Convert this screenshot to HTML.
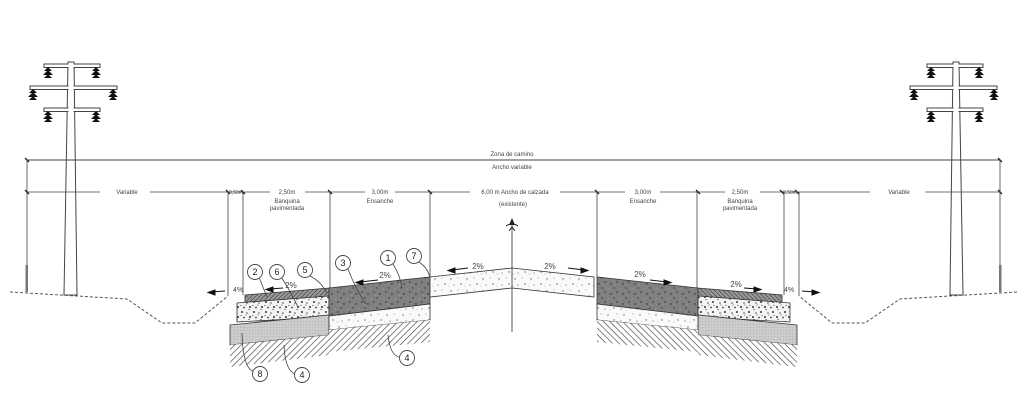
<!DOCTYPE html>
<html><head><meta charset="utf-8"><style>
html,body{margin:0;padding:0;background:#fff;}
svg{display:block;}
text{font-family:"Liberation Sans",sans-serif;fill:#444;font-size:6px;text-anchor:middle;}
</style></head><body>
<svg width="1024" height="411" viewBox="0 0 1024 411" xmlns="http://www.w3.org/2000/svg">
<defs>
<pattern id="hatch" patternUnits="userSpaceOnUse" width="4.5" height="4.5" patternTransform="rotate(45)">
<rect width="4.5" height="4.5" fill="#fff"/><line x1="0" y1="0" x2="0" y2="4.5" stroke="#444" stroke-width="1.3"/></pattern>
<pattern id="dhatch" patternUnits="userSpaceOnUse" width="3" height="3" patternTransform="rotate(45)">
<rect width="3" height="3" fill="#999"/><line x1="0" y1="0" x2="0" y2="3" stroke="#333" stroke-width="1.1"/></pattern>
<pattern id="grid" patternUnits="userSpaceOnUse" width="3" height="3">
<rect width="3" height="3" fill="#cfcfcf"/><path d="M0 0H3M0 0V3" stroke="#aaa" stroke-width="0.5"/></pattern>
<pattern id="speck" patternUnits="userSpaceOnUse" width="12" height="10">
<rect width="12" height="10" fill="#f4f4f4"/>
<circle cx="2" cy="2" r="1" fill="#333"/><circle cx="7" cy="3" r="0.8" fill="#555"/><circle cx="10" cy="7" r="1" fill="#333"/>
<circle cx="4" cy="7.5" r="0.9" fill="#444"/><circle cx="9" cy="9.5" r="0.6" fill="#333"/><circle cx="1" cy="5.5" r="0.6" fill="#555"/>
<circle cx="6" cy="5" r="0.5" fill="#333"/></pattern>
<pattern id="speckL" patternUnits="userSpaceOnUse" width="16" height="12">
<rect width="16" height="12" fill="#fafafa"/>
<circle cx="3" cy="3" r="0.7" fill="#666"/><circle cx="10" cy="2" r="0.5" fill="#777"/><circle cx="13" cy="8" r="0.7" fill="#666"/>
<circle cx="6" cy="9" r="0.6" fill="#777"/><circle cx="1" cy="10" r="0.4" fill="#666"/></pattern>
<pattern id="dark" patternUnits="userSpaceOnUse" width="12" height="10">
<rect width="12" height="10" fill="#808080"/>
<circle cx="2" cy="2" r="0.8" fill="#333"/><circle cx="8" cy="4" r="0.7" fill="#222"/><circle cx="5" cy="8" r="0.7" fill="#333"/><circle cx="11" cy="9" r="0.5" fill="#bbb"/><circle cx="4" cy="5" r="0.4" fill="#ccc"/></pattern>
<g id="ins"><path d="M-4 4L0 0L4 4Z M-5 8L0 3L5 8Z M-4 11L0 7L4 11Z" fill="#111"/></g>
<g id="pole">
<path d="M68 62 L74 62 L77 295 L64 295 Z" fill="#fff" stroke="#444" stroke-width="1"/>
<rect x="44" y="64" width="56" height="3.5" fill="#fff" stroke="#444" stroke-width="1"/>
<rect x="30" y="86" width="87" height="3.5" fill="#fff" stroke="#444" stroke-width="1"/>
<rect x="44" y="108" width="56" height="3.5" fill="#fff" stroke="#444" stroke-width="1"/>
<rect x="68.5" y="63" width="5" height="50" fill="#fff"/>
<use href="#ins" x="48" y="67"/><use href="#ins" x="96" y="67"/>
<use href="#ins" x="33" y="89"/><use href="#ins" x="113" y="89"/>
<use href="#ins" x="48" y="111"/><use href="#ins" x="96" y="111"/>
</g>
<g id="half">
<polygon points="245,295 329,288 329,296 245,303" fill="url(#dhatch)" stroke="#333" stroke-width="0.8"/>
<polygon points="237,303 329,296 329,317 237,322" fill="url(#speck)" stroke="#333" stroke-width="0.8"/>
<polygon points="230,325 329,315 329,335 230,345" fill="url(#grid)" stroke="#333" stroke-width="0.8"/>
<polygon points="230,345 329,335 329,355 230,367" fill="url(#hatch)"/>
<polygon points="329,288 430,277 430,304 329,316" fill="url(#dark)" stroke="#333" stroke-width="0.8"/>
<polygon points="329,316 430,304 430,320 329,330" fill="url(#speckL)" stroke="#333" stroke-width="0.8"/>
<polygon points="329,330 430,320 430,342 329,352" fill="url(#hatch)"/>
<polyline points="10,292 127,299 162,323 195,323 228,296" fill="none" stroke="#555" stroke-width="1" stroke-dasharray="3,2"/>
<line x1="243" y1="192" x2="243" y2="295" stroke="#444" stroke-width="0.8"/>
<line x1="228" y1="192" x2="228" y2="296" stroke="#444" stroke-width="0.8"/>
<line x1="330" y1="192" x2="330" y2="288" stroke="#444" stroke-width="0.8"/>
<line x1="430" y1="192" x2="430" y2="277" stroke="#444" stroke-width="0.8"/>
<line x1="27" y1="160" x2="27" y2="292" stroke="#444" stroke-width="0.8"/>
<rect x="25.5" y="265" width="2.5" height="27" fill="#777"/>
</g>
</defs>

<use href="#pole"/>
<use href="#pole" transform="matrix(-1,0,0,1,1027,0)"/>
<use href="#half"/>
<use href="#half" transform="matrix(-1,0,0,1,1027,0)"/>

<polygon points="430,277 512,268 594,277 594,297 512,288 430,297" fill="url(#speckL)" stroke="#333" stroke-width="0.8"/>

<line x1="27" y1="160" x2="1000" y2="160" stroke="#444" stroke-width="1"/>
<text x="512" y="156">Zona de camino</text>
<text x="512" y="169">Ancho variable</text>
<g stroke="#444" stroke-width="0.8">
<line x1="27" y1="192" x2="100" y2="192"/><line x1="150" y1="192" x2="270" y2="192"/>
<line x1="305" y1="192" x2="365" y2="192"/><line x1="395" y1="192" x2="470" y2="192"/>
<line x1="560" y1="192" x2="625" y2="192"/><line x1="660" y1="192" x2="725" y2="192"/>
<line x1="760" y1="192" x2="870" y2="192"/><line x1="925" y1="192" x2="1000" y2="192"/>
</g>
<g stroke="#222" stroke-width="1.3">
<line x1="25" y1="158" x2="29" y2="162"/><line x1="998" y1="158" x2="1002" y2="162"/>
<line x1="25" y1="190" x2="29" y2="194"/><line x1="226" y1="190" x2="230" y2="194"/><line x1="241" y1="190" x2="245" y2="194"/>
<line x1="328" y1="190" x2="332" y2="194"/><line x1="428" y1="190" x2="432" y2="194"/><line x1="595" y1="190" x2="599" y2="194"/>
<line x1="696" y1="190" x2="700" y2="194"/><line x1="780" y1="190" x2="784" y2="194"/><line x1="795" y1="190" x2="799" y2="194"/>
<line x1="998" y1="190" x2="1002" y2="194"/>
</g>
<text x="127" y="194">Variable</text><text x="899" y="194">Variable</text>
<text x="236" y="194" style="font-size:5px">0,50m</text><text x="790" y="194" style="font-size:5px">0,50m</text>
<text x="287" y="194">2,50m</text><text x="287" y="203">Banquina</text><text x="287" y="210">pavimentada</text>
<text x="740" y="194">2,50m</text><text x="740" y="203">Banquina</text><text x="740" y="210">pavimentada</text>
<text x="380" y="194">3,00m</text><text x="380" y="203">Ensanche</text>
<text x="643" y="194">3,00m</text><text x="643" y="203">Ensanche</text>
<text x="515" y="194">6,00 m Ancho de calzada</text><text x="513" y="206">(existente)</text>

<line x1="512" y1="222" x2="512" y2="332" stroke="#444" stroke-width="0.9"/>
<path d="M512 218 L509 225 L515 225 Z" fill="#222"/>
<path d="M506 226 Q512 222 518 226 M509 231 L512 227 L515 231" fill="none" stroke="#222" stroke-width="1"/>

<g stroke="#111" stroke-width="1" fill="#111">
<line x1="452" y1="270" x2="468" y2="268"/><path d="M448 270.5 L455 268 L455 273 Z"/>
<line x1="568" y1="268" x2="584" y2="270"/><path d="M588 270.5 L581 268 L581 273 Z"/>
<line x1="360" y1="282" x2="378" y2="280"/><path d="M356 282.5 L363 280 L363 285 Z"/>
<line x1="650" y1="280" x2="667" y2="282"/><path d="M671 282.5 L664 280 L664 285 Z"/>
<line x1="270" y1="289" x2="283" y2="288"/><path d="M266 289.5 L273 287 L273 292 Z"/>
<line x1="744" y1="288" x2="757" y2="289"/><path d="M761 289.5 L754 287 L754 292 Z"/>
<line x1="212" y1="292" x2="225" y2="291"/><path d="M208 292.5 L215 290 L215 295 Z"/>
<line x1="802" y1="291" x2="815" y2="292"/><path d="M819 292.5 L812 290 L812 295 Z"/>
</g>
<text x="478" y="269" style="font-size:8px">2%</text><text x="550" y="269" style="font-size:8px">2%</text>
<text x="385" y="278" style="font-size:8px">2%</text><text x="640" y="277" style="font-size:8px">2%</text>
<text x="291" y="288" style="font-size:8px">2%</text><text x="736" y="287" style="font-size:8px">2%</text>
<text x="238" y="292" style="font-size:7px">4%</text><text x="789" y="292" style="font-size:7px">4%</text>

<g fill="none" stroke="#444" stroke-width="0.8">
<path d="M259 277 Q262 285 267 297"/><path d="M281 277 Q290 290 298 307"/>
<path d="M310 276 Q322 282 327 294"/><path d="M348 269 Q356 290 366 304"/>
<path d="M393 264 Q400 275 402 288"/><path d="M419 262 Q428 268 430 278"/>
<path d="M253 371 Q243 368 242 333"/><path d="M295 374 Q285 370 284 345"/>
<path d="M399 357 Q390 355 388 335"/>
</g>
<g fill="#fff" stroke="#444" stroke-width="0.9">
<circle cx="255" cy="272" r="7.5"/><circle cx="277" cy="272" r="7.5"/><circle cx="305" cy="270" r="7.5"/>
<circle cx="343" cy="263" r="7.5"/><circle cx="388" cy="258" r="7.5"/><circle cx="414" cy="256" r="7.5"/>
<circle cx="260" cy="374" r="7.5"/><circle cx="302" cy="375" r="7.5"/><circle cx="407" cy="358" r="7.5"/>
</g>
<text x="255" y="275" style="font-size:9px;fill:#222">2</text><text x="277" y="275" style="font-size:9px;fill:#222">6</text>
<text x="305" y="273" style="font-size:9px;fill:#222">5</text><text x="343" y="266" style="font-size:9px;fill:#222">3</text>
<text x="388" y="261" style="font-size:9px;fill:#222">1</text><text x="414" y="259" style="font-size:9px;fill:#222">7</text>
<text x="260" y="377" style="font-size:9px;fill:#222">8</text><text x="302" y="378" style="font-size:9px;fill:#222">4</text>
<text x="407" y="361" style="font-size:9px;fill:#222">4</text>
</svg>
</body></html>
